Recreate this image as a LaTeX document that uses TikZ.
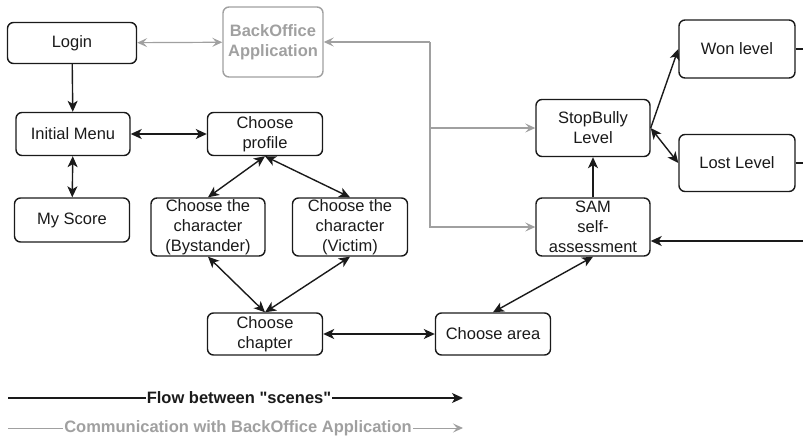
\documentclass[tikz,border=0pt]{standalone}
\usepackage{fontspec}
\setmainfont{Liberation Sans}[Ligatures=TeXOff]
\usepackage{tikz}
\usetikzlibrary{arrows.meta,positioning}

\definecolor{inkdark}{HTML}{1A1A1A}
\definecolor{officegray}{HTML}{A0A0A0}

\begin{document}
\begin{tikzpicture}[x=1pt, y=-1pt,
    font=\fontsize{16.5}{20}\selectfont,
    block/.style={rectangle, draw=inkdark, line width=1.4pt, text=inkdark, align=center, rounded corners=6pt, minimum width=115pt, minimum height=43pt, inner sep=1pt},
    tall/.style={block, minimum height=58pt},
    office/.style={block, draw=officegray, text=officegray, font=\fontsize{16.5}{20}\selectfont\bfseries, minimum width=100pt, minimum height=70pt},
    arrow/.style={->, >={Stealth[length=11pt,width=10pt,inset=3pt]}, line width=1.4pt, draw=inkdark},
    grayarrow/.style={->, >={Stealth[length=10pt,width=9pt,inset=4pt]}, line width=1.2pt, draw=officegray}]

    \useasboundingbox (0,0) rectangle (803,439);

    % scenes
    \node[block, minimum width=129pt, minimum height=41pt] (login) at (72,43) {Login};
    \node[office] (backoffice) at (273,42) {BackOffice\\Application};
    \node[block, minimum width=114pt] (menu) at (73,134) {Initial Menu};
    \node[block] (profile) at (265,134) {Choose\\profile};
    \node[block, minimum height=44pt] (score) at (72,220) {My Score};
    \node[tall, minimum width=114pt] (bystander) at (208,227) {Choose the\\character\\(Bystander)};
    \node[tall] (victim) at (350,227) {Choose the\\character\\(Victim)};
    \node[block, minimum height=42pt] (chapter) at (265,334) {Choose\\chapter};
    \node[block, minimum height=42pt] (area) at (493,334) {Choose area};
    \node[tall, minimum width=114pt] (sam) at (593,227) {SAM\\self-\\assessment};
    \node[tall, minimum width=114pt, minimum height=57pt] (stop) at (593,128) {StopBully\\Level};
    \node[tall, minimum width=116pt] (won) at (737,49) {Won level};
    \node[tall, minimum width=116pt, minimum height=57pt] (lost) at (737,163) {Lost Level};

    \coordinate (wonout) at (803,49);
    \coordinate (lostout) at (803,163);
    \coordinate (samin) at (803,241);
    \coordinate (hub) at (430,42);

    % flow between scenes
    \draw[arrow] (login) -- (menu);
    \draw[arrow, <->] (menu) -- (profile);
    \draw[arrow, <->] (menu) -- (score);
    \draw[arrow, <->] (profile.south) -- (bystander.north);
    \draw[arrow, <->] (profile.south) -- (victim.north);
    \draw[arrow, <->] (bystander.south) -- (chapter.north);
    \draw[arrow, <->] (victim.south) -- (chapter.north);
    \draw[arrow, <->] (chapter) -- (area);
    \draw[arrow, <->] (area.north) -- (sam.south);
    \draw[arrow] (sam) -- (stop);
    \draw[arrow] (stop.east) -- (won.west);
    \draw[arrow, <->] (stop.east) -- (lost.west);
    \draw[arrow, -] (won) -- (wonout);
    \draw[arrow, -] (lost) -- (lostout);
    \draw[arrow] (samin) -- ([yshift=-14pt]sam.east);

    % backoffice communication
    \draw[grayarrow, <->] (login) -- (backoffice);
    \draw[grayarrow] (hub) -- (backoffice);
    \draw[grayarrow] (hub) |- (stop);
    \draw[grayarrow] (hub) |- (sam);

    % legend
    \coordinate (flowstart) at (8,398);
    \coordinate (flowend) at (463,398);
    \coordinate (commstart) at (8,428);
    \coordinate (commend) at (463,428);
    \draw[arrow] (flowstart) -- (flowend);
    \node[fill=white, inner sep=1pt, text=inkdark, font=\fontsize{16.5}{20}\selectfont\bfseries] (flowlabel) at (239,398) {Flow between "scenes"};
    \draw[grayarrow, line width=1pt] (commstart) -- (commend);
    \node[fill=white, inner sep=1pt, text=officegray, font=\fontsize{16.5}{20}\selectfont\bfseries] (commlabel) at (238,428) {Communication with BackOffice Application};
\end{tikzpicture}
\end{document}
